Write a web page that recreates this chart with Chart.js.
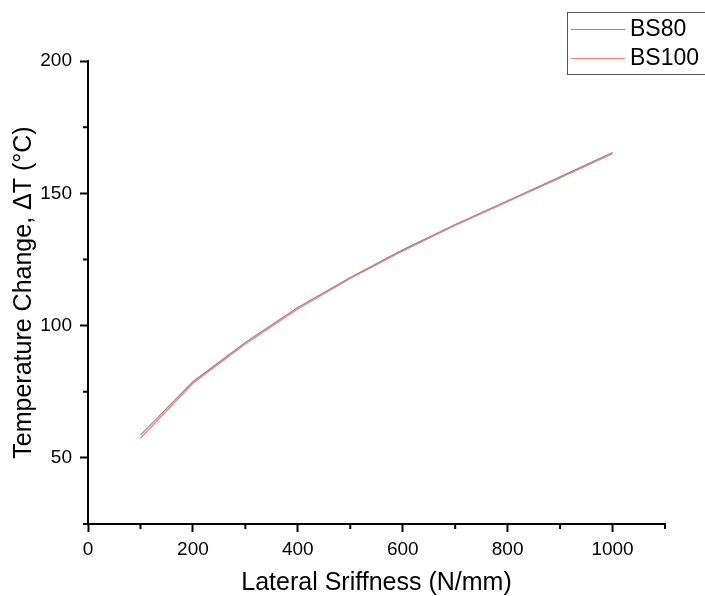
<!DOCTYPE html>
<html>
<head>
<meta charset="utf-8">
<title>Temperature change vs lateral stiffness</title>
<script src="https://cdn.jsdelivr.net/npm/chart.js@4.4.0/dist/chart.umd.min.js"></script>
<style>
  html, body { margin: 0; padding: 0; background: #fff; }
  #wrap { width: 705px; height: 596px; position: relative; }
</style>
</head>
<body>
<div id="wrap"><canvas id="chart"></canvas></div>
<script>
// Lateral stiffness (N/mm) and temperature change (°C) for each ball screw
const stiffness = [100, 200, 300, 400, 500, 600, 700, 800, 900, 1000];
const bs80 = [58.6, 78.8, 93.6, 106.8, 118.2, 128.6, 138.2, 147.2, 156.2, 165.4];
const bs100 = [57.4, 78.2, 93.0, 106.3, 117.8, 128.2, 137.8, 146.8, 155.8, 165.0];

const seriesNames = ['BS80', 'BS100'];
const seriesColors = ['#8c8c8c', '#ff7a7a'];

const xMajor = [0, 200, 400, 600, 800, 1000];
const xMinor = [100, 300, 500, 700, 900, 1100];
const yMajor = [50, 100, 150, 200];
const yMinor = [25, 75, 125, 175];

const toPoints = ys => stiffness.map((x, i) => ({ x: x, y: ys[i] }));

// short unlabeled ticks between the major ones
const minorTicks = {
    id: 'minorTicks',
    afterDraw(chart) {
        const ctx = chart.ctx;
        const xs = chart.scales.x, ys = chart.scales.y;
        ctx.save();
        ctx.strokeStyle = '#000';
        ctx.lineWidth = 2;
        ctx.beginPath();
        xMinor.forEach(v => {
            const px = xs.getPixelForValue(v);
            ctx.moveTo(px, xs.top);
            ctx.lineTo(px, xs.top + 5);
        });
        yMinor.forEach(v => {
            const py = ys.getPixelForValue(v);
            ctx.moveTo(ys.right, py);
            ctx.lineTo(ys.right - 5, py);
        });
        ctx.stroke();
        ctx.restore();
    }
};

// boxed legend in the top right corner
const boxLegend = {
    id: 'boxLegend',
    afterDraw(chart) {
        const ctx = chart.ctx;
        ctx.save();
        ctx.strokeStyle = '#555';
        ctx.lineWidth = 1;
        ctx.strokeRect(567.5, 12.5, 150, 62);
        ctx.font = '23px "Liberation Sans", Arial, sans-serif';
        ctx.textBaseline = 'middle';
        ctx.fillStyle = '#000';
        chart.data.datasets.forEach((ds, i) => {
            const y = 29 + i * 29;
            ctx.strokeStyle = ds.borderColor;
            ctx.lineWidth = 1;
            ctx.beginPath();
            ctx.moveTo(571, y + 0.5);
            ctx.lineTo(625, y + 0.5);
            ctx.stroke();
            ctx.fillText(ds.label, 630, y + 1);
        });
        ctx.restore();
    }
};

const axisFont = '"Liberation Sans", Arial, sans-serif';

new Chart(document.getElementById('chart'), {
    type: 'line',
    data: {
        datasets: [bs80, bs100].map((ys, i) => ({
            label: seriesNames[i],
            data: toPoints(ys),
            borderColor: seriesColors[i],
            backgroundColor: seriesColors[i],
            borderWidth: 1.2,
            pointRadius: 0,
            tension: 0
        }))
    },
    options: {
        responsive: true,
        maintainAspectRatio: false,
        animation: false,
        layout: { padding: { top: 61, right: 40, left: 0, bottom: 0 } },
        plugins: {
            legend: { display: false },
            tooltip: { enabled: false }
        },
        scales: {
            x: {
                type: 'linear',
                min: 0,
                max: 1100,
                afterBuildTicks: s => { s.ticks = xMajor.map(v => ({ value: v })); },
                afterFit: s => { s.height = 72; },
                grid: { drawOnChartArea: false, drawTicks: true, tickLength: 8, tickWidth: 2, tickColor: '#000' },
                border: { display: true, color: '#000', width: 2 },
                ticks: {
                    color: '#000', font: { family: axisFont, size: 19 }, padding: 6,
                    maxRotation: 0, autoSkip: false, callback: v => String(v)
                },
                title: {
                    display: true,
                    text: 'Lateral Sriffness (N/mm)',
                    color: '#000',
                    font: { family: axisFont, size: 25 },
                    padding: { top: 0, bottom: -2 }
                }
            },
            y: {
                type: 'linear',
                min: 25,
                max: 200,
                afterBuildTicks: s => { s.ticks = yMajor.map(v => ({ value: v })); },
                afterFit: s => { s.width = 88; },
                grid: { drawOnChartArea: false, drawTicks: true, tickLength: 8, tickWidth: 2, tickColor: '#000' },
                border: { display: true, color: '#000', width: 2 },
                ticks: {
                    color: '#000', font: { family: axisFont, size: 19 }, padding: 8,
                    autoSkip: false, callback: v => String(v)
                },
                title: {
                    display: true,
                    text: 'Temperature Change, ΔT (°C)',
                    color: '#000',
                    font: { family: axisFont, size: 25 },
                    padding: { top: 9, bottom: 0 }
                }
            }
        }
    },
    plugins: [minorTicks, boxLegend]
});
</script>
</body>
</html>
